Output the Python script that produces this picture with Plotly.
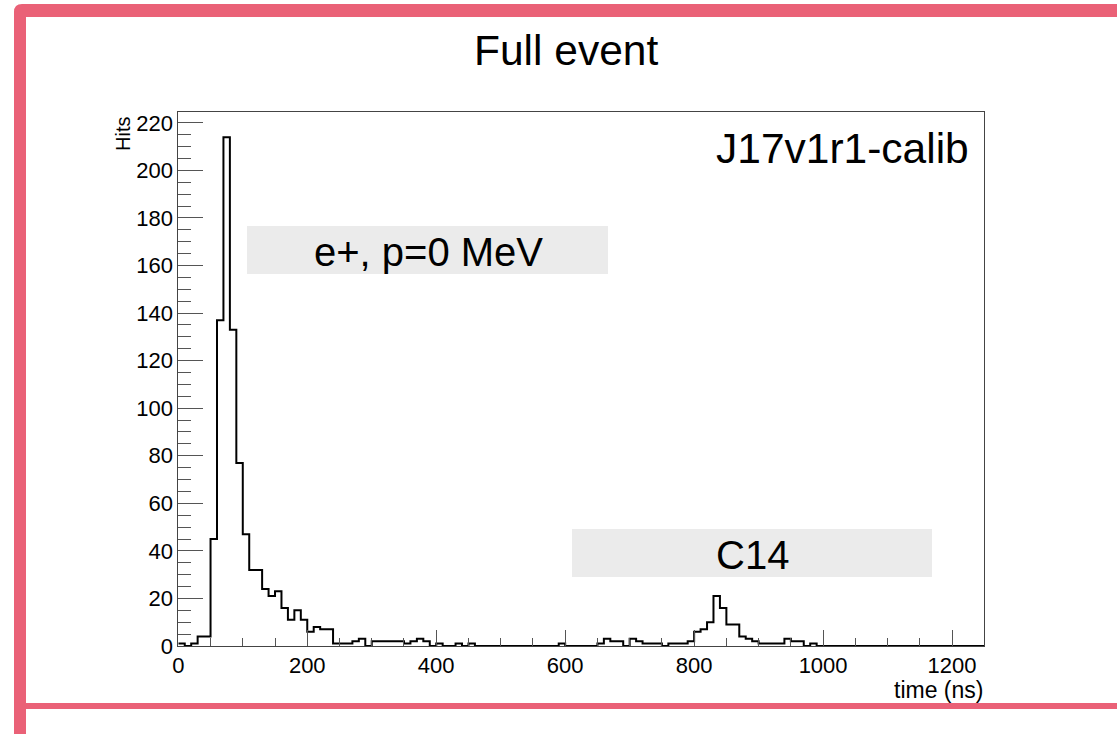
import plotly.graph_objects as go

# Hit-time histogram: 10 ns bins from 0 to 1250 ns
bin_width = 10
t_min, t_max = 0, 1250
hits = [
    1, 0, 1, 4, 4, 45, 137, 214, 133, 77,
    47, 32, 32, 24, 21, 23, 16, 11, 15, 11,
    6, 8, 7, 7, 1, 1, 1, 2, 3, 0,
    2, 2, 2, 2, 2, 1, 2, 3, 2, 0,
    1, 0, 0, 1, 0, 1, 0, 0, 0, 0,
    0, 0, 0, 0, 0, 0, 0, 0, 0, 1,
    0, 0, 0, 0, 0, 1, 3, 2, 2, 0,
    3, 2, 1, 1, 1, 0, 1, 1, 1, 2,
    6, 7, 10, 21, 16, 9, 9, 4, 3, 2,
    1, 1, 1, 1, 3, 2, 2, 0, 1, 0,
    0, 0, 0, 0, 0, 0, 0, 0, 0, 0,
    0, 0, 0, 0, 0, 0, 0, 0, 0, 0,
    0, 0, 0, 0, 0,
]
x_ticks = [0, 200, 400, 600, 800, 1000, 1200]
y_ticks = [0, 20, 40, 60, 80, 100, 120, 140, 160, 180, 200, 220]

title_text = "Full event"
tag_text = "J17v1r1-calib"
beam_text = "e+, p=0 MeV"
source_text = "C14"
x_title = "time (ns)"
y_title = "Hits"

W, H = 1117, 734
FONT = "Liberation Sans, Arial, Helvetica, sans-serif"
PINK = "rgb(234,97,119)"
BOX = "rgb(235,235,235)"


def px(x):
    return x / W


def py(y):
    return 1 - y / H


edges = [t_min + i * bin_width for i in range(len(hits) + 1)]
step_y = hits + [hits[-1]]

fig = go.Figure()
fig.add_trace(go.Scatter(
    x=edges, y=step_y, mode="lines", line_shape="hv",
    line=dict(color="black", width=2), hoverinfo="skip", showlegend=False,
))

y_top = max(hits) * 1.05

axis_common = dict(
    automargin=False,
    showgrid=False, zeroline=False, showline=True, mirror=True,
    linecolor="#444", linewidth=1, ticks="inside", tickcolor="#555",
    tickwidth=1, tickfont=dict(family=FONT, size=22, color="black"),
)

fig.update_layout(
    template="none",
    width=W, height=H,
    autosize=False,
    margin=dict(l=0, r=0, t=0, b=0, pad=0, autoexpand=False),
    paper_bgcolor="white", plot_bgcolor="white",
    showlegend=False,
    xaxis=dict(
        **axis_common,
        domain=[px(178.3), px(984.3)],
        range=[t_min, t_max],
        tickmode="array", tickvals=x_ticks, ticktext=[str(v) for v in x_ticks],
        ticklen=16,
        minor=dict(ticks="inside", ticklen=8, dtick=50, tickcolor="#555", showgrid=False),
    ),
    yaxis=dict(
        **axis_common,
        domain=[py(646), py(111.7)],
        range=[0, y_top],
        tickmode="array", tickvals=y_ticks, ticktext=[str(v) for v in y_ticks],
        ticklen=25,
        minor=dict(ticks="inside", ticklen=13, dtick=5, tickcolor="#555", showgrid=False),
    ),
)

shapes = [
    # canvas border
    dict(type="path",
         path=f"M {px(14)},{py(734)} L {px(14)},{py(12)} Q {px(14)},{py(4)} {px(22)},{py(4)} "
              f"L {px(1117)},{py(4)} L {px(1117)},{py(17)} L {px(26)},{py(17)} L {px(26)},{py(734)} Z",
         xref="paper", yref="paper", fillcolor=PINK, line=dict(width=0)),
    dict(type="rect", x0=px(14), x1=px(1117), y0=py(709), y1=py(703),
         xref="paper", yref="paper", fillcolor=PINK, line=dict(width=0)),
    # label boxes
    dict(type="rect", x0=px(247), x1=px(608), y0=py(274), y1=py(226),
         xref="paper", yref="paper", fillcolor=BOX, line=dict(width=0), layer="below"),
    dict(type="rect", x0=px(572), x1=px(932), y0=py(577), y1=py(529),
         xref="paper", yref="paper", fillcolor=BOX, line=dict(width=0), layer="below"),
]
fig.update_layout(shapes=shapes)

annotations = [
    dict(text=title_text, x=px(566), y=py(50), font=dict(size=42.5)),
    dict(text=tag_text, x=px(971), y=py(149), xanchor="right", font=dict(size=42.5)),
    dict(text=beam_text, x=px(428), y=py(252), font=dict(size=40)),
    dict(text=source_text, x=px(752), y=py(555), font=dict(size=40)),
    dict(text=x_title, x=px(985), y=py(690), xanchor="right", font=dict(size=23)),
    dict(text=y_title, x=px(123), y=py(115), yanchor="top", textangle=-90, font=dict(size=20)),
]
for a in annotations:
    a.setdefault("xanchor", "center")
    a.setdefault("yanchor", "middle")
    a["font"] = dict(family=FONT, color="black", **a["font"])
    fig.add_annotation(xref="paper", yref="paper", showarrow=False, **a)

fig.write_html("out.html")
